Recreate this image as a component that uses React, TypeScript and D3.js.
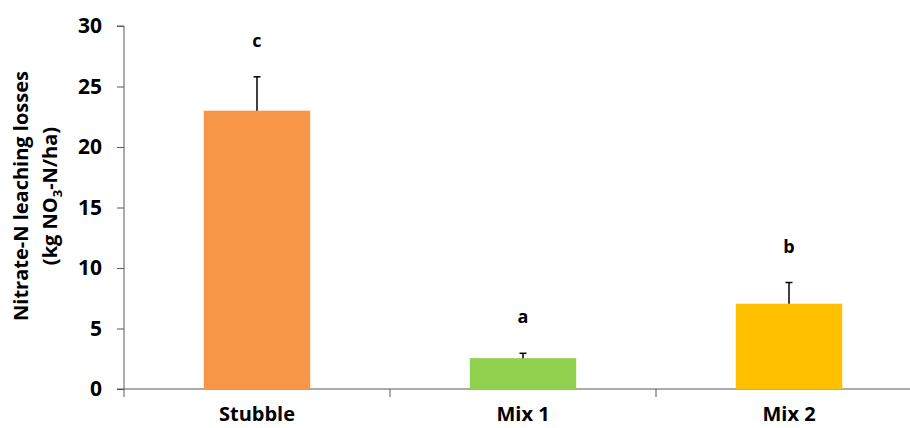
import React, { useEffect, useRef } from 'react';
import * as d3 from 'd3';

const categories = ['Stubble', 'Mix 1', 'Mix 2'];
const values = [23.0, 2.55, 7.05];
const errors = [2.8, 0.4, 1.75];
const letters = ['c', 'a', 'b'];
const colors = ['#F79646', '#92D050', '#FFC000'];
const yTicks = [0, 5, 10, 15, 20, 25, 30];

const FONT = '"Open Sans", "DejaVu Sans", sans-serif';

const App: React.FC = () => {
  const svgRef = useRef<SVGSVGElement>(null);
  const width = 910;
  const height = 428;

  useEffect(() => {
    if (!svgRef.current) return;
    const svg = d3.select(svgRef.current);
    svg.selectAll('*').remove();

    const left = 124;
    const top = 26;
    const bottom = 389;

    const x = d3.scaleBand()
      .domain(categories)
      .range([left, left + 798])
      .paddingInner(0.6)
      .paddingOuter(0.3);

    const y = d3.scaleLinear()
      .domain([0, 30])
      .range([bottom, top]);

    // y axis
    const yAxis = svg.append('g')
      .attr('transform', `translate(${left},0)`)
      .call(d3.axisLeft(y).tickValues(yTicks).tickSize(7).tickPadding(15));
    yAxis.select('.domain').attr('stroke', '#595959').attr('d', `M-7,${top}H0V${bottom}`);
    yAxis.selectAll('.tick line').attr('stroke', '#595959');
    yAxis.selectAll('.tick text')
      .attr('fill', '#000')
      .style('font-family', FONT)
      .style('font-weight', 'bold')
      .style('font-size', '21px');

    // x axis
    const band = 266;
    const xAxis = svg.append('g');
    xAxis.append('line')
      .attr('x1', left - 7).attr('x2', left + 798)
      .attr('y1', bottom).attr('y2', bottom)
      .attr('stroke', '#595959');
    [0, 1, 2].forEach(i => {
      xAxis.append('line')
        .attr('x1', left + band * i).attr('x2', left + band * i)
        .attr('y1', bottom).attr('y2', bottom + 8)
        .attr('stroke', '#595959');
    });
    xAxis.selectAll('text.cat')
      .data(categories)
      .enter()
      .append('text')
      .attr('class', 'cat')
      .attr('x', d => (x(d) || 0) + x.bandwidth() / 2)
      .attr('y', 421)
      .attr('text-anchor', 'middle')
      .style('font-family', FONT)
      .style('font-weight', 'bold')
      .style('font-size', '20px')
      .text(d => d);

    // bars
    svg.selectAll('rect.bar')
      .data(values)
      .enter()
      .append('rect')
      .attr('class', 'bar')
      .attr('x', (d, i) => x(categories[i]) || 0)
      .attr('width', x.bandwidth())
      .attr('y', d => y(d))
      .attr('height', d => bottom - y(d))
      .attr('fill', (d, i) => colors[i]);

    // error bars (upper only)
    const eb = svg.append('g').attr('stroke', '#000').attr('stroke-width', 1.5);
    values.forEach((v, i) => {
      const cx = (x(categories[i]) || 0) + x.bandwidth() / 2;
      eb.append('line')
        .attr('x1', cx).attr('x2', cx)
        .attr('y1', y(v)).attr('y2', y(v + errors[i]));
      eb.append('line')
        .attr('x1', cx - 3.5).attr('x2', cx + 3.5)
        .attr('y1', y(v + errors[i])).attr('y2', y(v + errors[i]));
    });

    // significance letters
    svg.selectAll('text.letter')
      .data(letters)
      .enter()
      .append('text')
      .attr('class', 'letter')
      .attr('x', (d, i) => (x(categories[i]) || 0) + x.bandwidth() / 2)
      .attr('y', (d, i) => y(values[i] + errors[i]) - 30)
      .attr('text-anchor', 'middle')
      .style('font-family', FONT)
      .style('font-weight', 'bold')
      .style('font-size', '18px')
      .text(d => d);

    // y axis title
    const title = svg.append('text')
      .attr('transform', 'translate(0,196) rotate(-90)')
      .attr('text-anchor', 'middle')
      .style('font-family', FONT)
      .style('font-weight', 'bold')
      .style('font-size', '20px');
    title.append('tspan').attr('x', 0).attr('y', 28).text('Nitrate-N leaching losses');
    const l2 = title.append('tspan').attr('x', 0).attr('y', 57);
    l2.append('tspan').text('(kg NO');
    l2.append('tspan').attr('dy', 5).style('font-size', '13px').text('3');
    l2.append('tspan').attr('dy', -5).text('-N/ha)');
  }, []);

  return (
    <svg
      ref={svgRef}
      width={width}
      height={height}
      style={{ position: 'absolute', left: 0, top: 0, background: '#fff' }}
    />
  );
};

export default App;
